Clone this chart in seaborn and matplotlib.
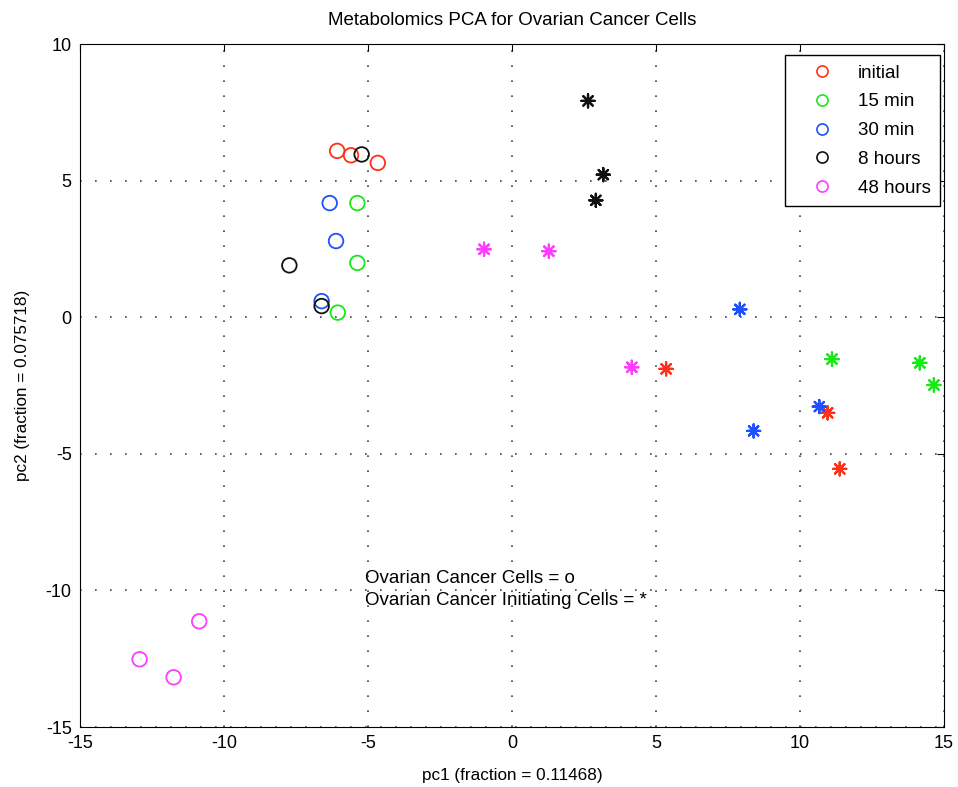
import numpy as np
import pandas as pd
import matplotlib
matplotlib.use("Agg")
import matplotlib.pyplot as plt
import seaborn as sns
from matplotlib.lines import Line2D

# -----------------------------
# Data
# -----------------------------
times = ["initial", "15 min", "30 min", "8 hours", "48 hours"]

# Ovarian Cancer Cells (circles)
occ_time = ["initial", "initial", "initial",
            "15 min", "15 min", "15 min",
            "30 min", "30 min", "30 min",
            "8 hours", "8 hours", "8 hours",
            "48 hours", "48 hours", "48 hours"]
occ_pc1 = [-6.07, -5.59, -4.66,
           -5.37, -5.37, -6.05,
           -6.33, -6.11, -6.61,
           -5.22, -7.73, -6.61,
           -10.86, -12.93, -11.75]
occ_pc2 = [6.09, 5.93, 5.65,
           4.18, 1.99, 0.17,
           4.18, 2.79, 0.59,
           5.96, 1.90, 0.41,
           -11.13, -12.52, -13.18]

# Ovarian Cancer Initiating Cells (stars)
ocic_time = ["initial", "initial", "initial",
             "15 min", "15 min", "15 min",
             "30 min", "30 min", "30 min",
             "8 hours", "8 hours", "8 hours",
             "48 hours", "48 hours", "48 hours"]
ocic_pc1 = [5.35, 10.96, 11.38,
            11.11, 14.16, 14.65,
            7.91, 10.67, 8.39,
            2.64, 3.17, 2.91,
            -0.97, 1.28, 4.16]
ocic_pc2 = [-1.89, -3.50, -5.55,
            -1.53, -1.67, -2.48,
            0.29, -3.27, -4.16,
            7.92, 5.22, 4.28,
            2.49, 2.42, -1.83]

palette = {"initial": "#ff3018", "15 min": "#18e818", "30 min": "#1f50ff",
           "8 hours": "#111111", "48 hours": "#ff3cff"}

occ = pd.DataFrame({"time": occ_time, "pc1": occ_pc1, "pc2": occ_pc2})
ocic = pd.DataFrame({"time": ocic_time, "pc1": ocic_pc1, "pc2": ocic_pc2})

# -----------------------------
# Style
# -----------------------------
sns.set_style("white")
plt.rcParams["font.family"] = ["Liberation Sans", "DejaVu Sans"]
plt.rcParams["axes.unicode_minus"] = False
plt.rcParams["xtick.direction"] = "in"
plt.rcParams["ytick.direction"] = "in"
for key in ["text.color", "axes.labelcolor", "xtick.color", "ytick.color"]:
    plt.rcParams[key] = "black"

fig = plt.figure(figsize=(9.58, 7.87), dpi=100)
ax = fig.add_axes([0.0835, 0.0762, 0.9019, 0.8678])

# circles
sns.scatterplot(data=occ, x="pc1", y="pc2", hue="time", palette=palette,
                hue_order=times, marker="o", s=110, legend=False, ax=ax)
coll = ax.collections[-1]
cols = [palette[t] for t in occ["time"]]
coll.set_edgecolors(cols)
coll.set_facecolors("none")
coll.set_linewidths(1.3)

# stars
sns.scatterplot(data=ocic, x="pc1", y="pc2", hue="time", palette=palette,
                hue_order=times, marker=(8, 2, 0), s=90, legend=False, ax=ax)
coll = ax.collections[-1]
cols = [palette[t] for t in ocic["time"]]
coll.set_edgecolors(cols)
coll.set_facecolors(cols)
coll.set_linewidths(1.6)

ax.set_xlim(-15, 15)
ax.set_ylim(-15, 10)
ax.set_xticks(np.arange(-15, 16, 5))
ax.set_yticks(np.arange(-15, 11, 5))
ax.tick_params(top=True, right=True, length=5, width=0.8, labelsize=13, pad=6)
ax.grid(True, color="#444444", linestyle=(0, (1, 8)), linewidth=1.2)
for sp in ax.spines.values():
    sp.set_color("black")
    sp.set_linewidth(0.8)

ax.set_title("Metabolomics PCA for Ovarian Cancer Cells", fontsize=13.5, pad=14)
ax.set_xlabel("pc1 (fraction = 0.11468)", fontsize=12.3, labelpad=11)
ax.set_ylabel("pc2 (fraction = 0.075718)", fontsize=12.3, labelpad=11)

ax.text(-5.1, -9.55, "Ovarian Cancer Cells = o", fontsize=13.5, va="center")
ax.text(-5.1, -10.35, "Ovarian Cancer Initiating Cells = *", fontsize=13.5, va="center")

handles = [Line2D([], [], marker="o", linestyle="none", markerfacecolor="none",
                  markeredgecolor=palette[t], markeredgewidth=1.2, markersize=8)
           for t in times]
leg = ax.legend(handles, times, loc="upper right", bbox_to_anchor=(0.9954, 0.9839),
                frameon=True, fancybox=False, framealpha=1, edgecolor="black",
                fontsize=13.5, labelspacing=0.62, handletextpad=0.4,
                borderpad=0.5, borderaxespad=0, handlelength=3.0)
leg.get_frame().set_linewidth(1.0)

fig.savefig("out.png", dpi=100)
